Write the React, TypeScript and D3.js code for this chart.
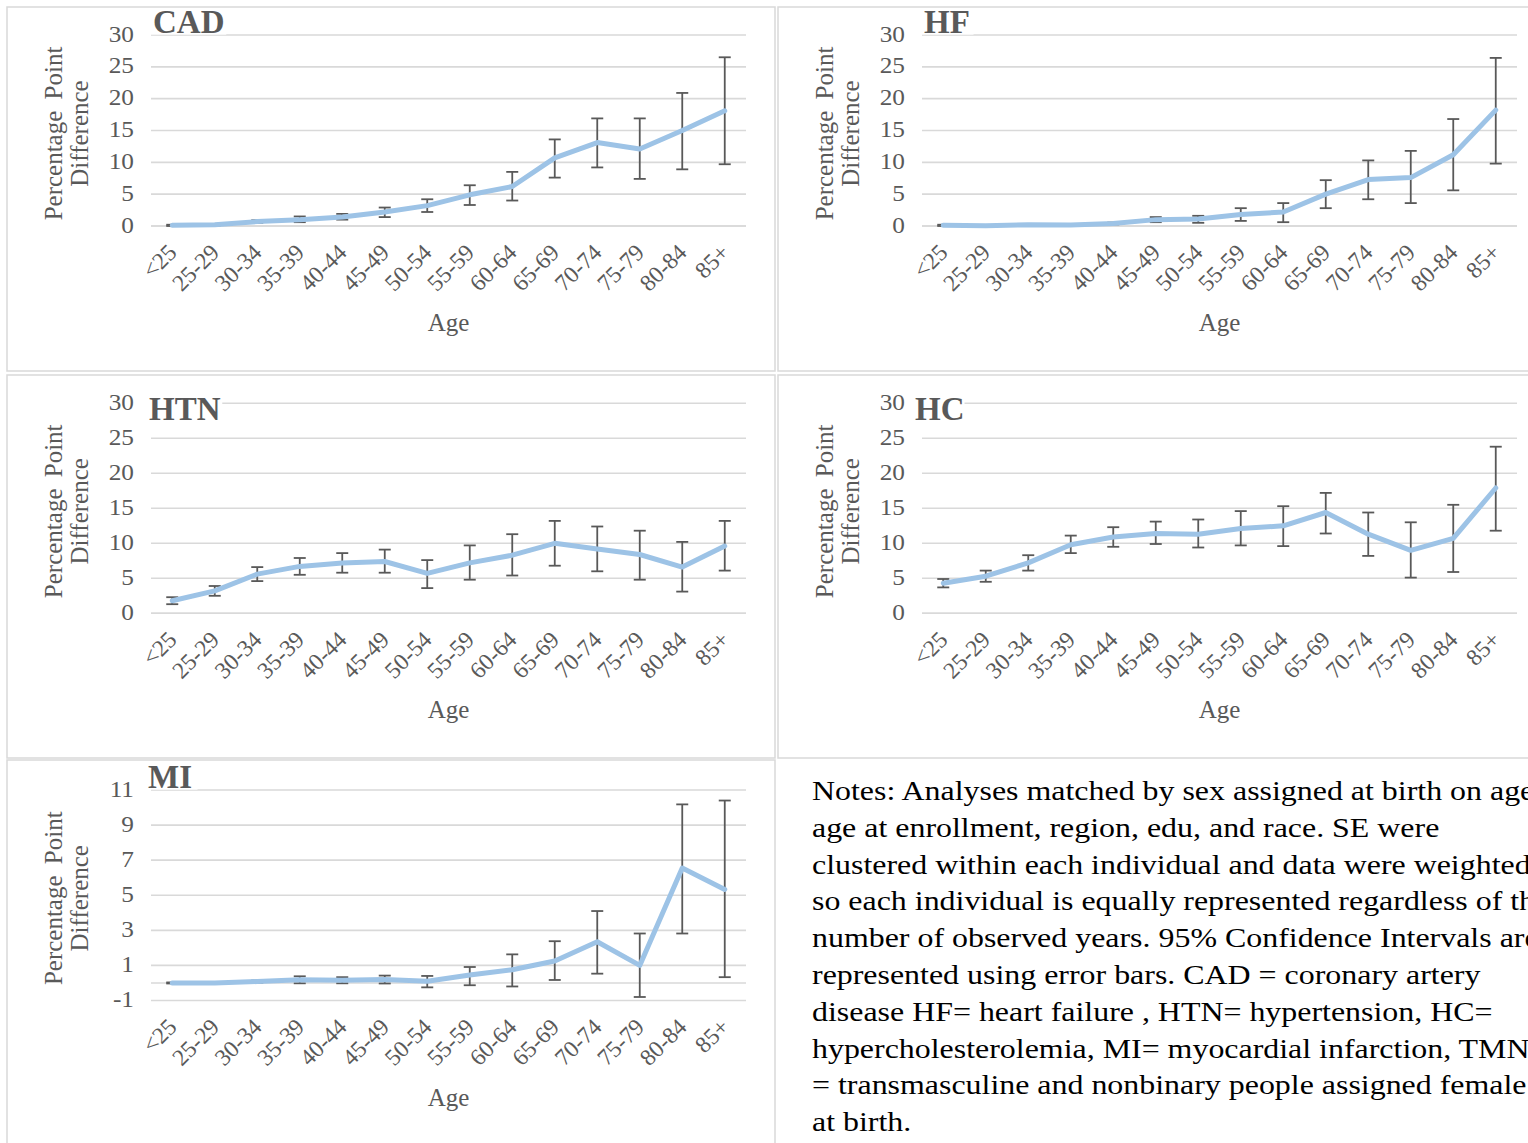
import React from "react";
import * as d3 from "d3";

// Age bands shared by every panel
const ageGroups = [
  "<25", "25-29", "30-34", "35-39", "40-44", "45-49", "50-54",
  "55-59", "60-64", "65-69", "70-74", "75-79", "80-84", "85+",
];

// Coronary artery disease: point estimate and 95% CI bounds
const cadEstimate = [0.1, 0.2, 0.7, 1.0, 1.4, 2.2, 3.2, 4.9, 6.2, 10.7, 13.1, 12.1, 15.0, 18.1];
const cadLow = [0.0, 0.1, 0.5, 0.6, 1.0, 1.4, 2.2, 3.3, 4.0, 7.6, 9.2, 7.4, 8.9, 9.7];
const cadHigh = [0.2, 0.3, 0.9, 1.5, 1.9, 2.9, 4.2, 6.4, 8.5, 13.6, 16.9, 16.9, 20.9, 26.5];

// Heart failure
const hfEstimate = [0.1, 0.05, 0.2, 0.15, 0.4, 1.0, 1.1, 1.8, 2.2, 5.0, 7.3, 7.6, 11.2, 18.2];
const hfLow = [0.0, 0.0, 0.1, 0.05, 0.25, 0.6, 0.5, 0.8, 0.6, 2.8, 4.2, 3.6, 5.6, 9.8];
const hfHigh = [0.2, 0.1, 0.3, 0.25, 0.55, 1.4, 1.6, 2.8, 3.6, 7.2, 10.3, 11.8, 16.8, 26.4];

// Hypertension
const htnEstimate = [1.8, 3.2, 5.6, 6.7, 7.2, 7.4, 5.7, 7.2, 8.3, 10.0, 9.2, 8.4, 6.6, 9.6];
const htnLow = [1.3, 2.5, 4.6, 5.5, 5.8, 5.8, 3.6, 4.8, 5.4, 6.8, 6.0, 4.8, 3.1, 6.1];
const htnHigh = [2.3, 3.9, 6.6, 7.9, 8.6, 9.1, 7.6, 9.7, 11.3, 13.2, 12.4, 11.8, 10.2, 13.2];

// Hypercholesterolemia
const hcEstimate = [4.3, 5.3, 7.2, 9.8, 10.9, 11.4, 11.3, 12.1, 12.5, 14.4, 11.3, 9.0, 10.7, 17.9];
const hcLow = [3.7, 4.5, 6.1, 8.6, 9.5, 9.9, 9.4, 9.7, 9.6, 11.4, 8.2, 5.1, 5.9, 11.8];
const hcHigh = [4.9, 6.1, 8.3, 11.1, 12.3, 13.1, 13.4, 14.6, 15.3, 17.2, 14.4, 13.0, 15.5, 23.8];

// Myocardial infarction
const miEstimate = [0.0, 0.0, 0.08, 0.18, 0.15, 0.2, 0.1, 0.45, 0.75, 1.25, 2.35, 1.0, 6.55, 5.33];
const miLow = [-0.03, -0.03, 0.02, -0.02, -0.02, -0.03, -0.25, -0.13, -0.2, 0.17, 0.53, -0.8, 2.82, 0.33];
const miHigh = [0.03, 0.03, 0.14, 0.38, 0.33, 0.42, 0.4, 0.91, 1.63, 2.38, 4.1, 2.82, 10.18, 10.4];

// Y axis tick values
const standardTicks = [0, 5, 10, 15, 20, 25, 30];
const miTicks = [-1, 1, 3, 5, 7, 9, 11];

const noteLines = [
  "Notes: Analyses matched by sex assigned at birth on age",
  "age at enrollment, region, edu, and race. SE were",
  "clustered within each individual and data were weighted",
  "so each individual is equally represented regardless of the",
  "number of observed years. 95% Confidence Intervals are",
  "represented using error bars. CAD = coronary artery",
  "disease HF= heart failure , HTN= hypertension, HC=",
  "hypercholesterolemia, MI= myocardial infarction, TMN",
  "= transmasculine and nonbinary people assigned female",
  "at birth.",
];

const FONT = "'Liberation Serif', 'Times New Roman', serif";
const TEXT_GRAY = "#595959";
const GRID = "#d9d9d9";
const LINE_BLUE = "#9dc3e6";
const BAR_GRAY = "#595959";

const PANEL_W = 768;
const PLOT_LEFT = 144;
const PLOT_RIGHT = 739;

type PanelSpec = {
  title: string;
  est: number[];
  low: number[];
  high: number[];
  domain: [number, number];
  ticks: number[];
  left: number;
  top: number;
  height: number;
  plotTop: number;
  plotBottom: number;
  titleX: number;
  titleY: number;
};

const panels: PanelSpec[] = [
  { title: "CAD", est: cadEstimate, low: cadLow, high: cadHigh, domain: [0, 30], ticks: standardTicks,
    left: 7, top: 7, height: 364, plotTop: 28, plotBottom: 219, titleX: 146, titleY: 26 },
  { title: "HF", est: hfEstimate, low: hfLow, high: hfHigh, domain: [0, 30], ticks: standardTicks,
    left: 778, top: 7, height: 364, plotTop: 28, plotBottom: 219, titleX: 146, titleY: 26 },
  { title: "HTN", est: htnEstimate, low: htnLow, high: htnHigh, domain: [0, 30], ticks: standardTicks,
    left: 7, top: 375, height: 383, plotTop: 28.3, plotBottom: 238.3, titleX: 142, titleY: 45 },
  { title: "HC", est: hcEstimate, low: hcLow, high: hcHigh, domain: [0, 30], ticks: standardTicks,
    left: 778, top: 375, height: 383, plotTop: 28.3, plotBottom: 238.3, titleX: 137, titleY: 45 },
  { title: "MI", est: miEstimate, low: miLow, high: miHigh, domain: [-1, 11], ticks: miTicks,
    left: 7, top: 760, height: 400, plotTop: 30, plotBottom: 240.5, titleX: 141, titleY: 28 },
];

function ChartPanel({ p }: { p: PanelSpec }) {
  const x = d3.scaleBand<string>().domain(ageGroups).range([PLOT_LEFT, PLOT_RIGHT]);
  const cx = (g: string) => (x(g) as number) + x.bandwidth() / 2;
  const y = d3.scaleLinear().domain(p.domain).range([p.plotBottom, p.plotTop]);
  const path = d3
    .line<number>()
    .x((_, i) => cx(ageGroups[i]))
    .y((v) => y(v))(p.est) as string;
  const midY = (p.plotTop + p.plotBottom) / 2 + 3;
  const capHalf = 6;
  const titleSize = 33;

  return (
    <g transform={`translate(${p.left},${p.top})`}>
      <rect x={0} y={0} width={PANEL_W} height={p.height} fill="#fff" stroke={GRID} strokeWidth={1.5} />
      {/* horizontal gridlines */}
      {p.ticks.map((t) => (
        <line key={`g${t}`} x1={PLOT_LEFT} x2={PLOT_RIGHT} y1={y(t)} y2={y(t)} stroke={GRID} strokeWidth={1.6} />
      ))}
      {/* category axis at zero */}
      <line x1={PLOT_LEFT} x2={PLOT_RIGHT} y1={y(0)} y2={y(0)} stroke={GRID} strokeWidth={1.6} />
      {/* confidence interval bars */}
      {ageGroups.map((g, i) => {
        const xc = cx(g);
        return (
          <g key={`e${g}`} stroke={BAR_GRAY} strokeWidth={1.8}>
            <line x1={xc} x2={xc} y1={y(p.low[i])} y2={y(p.high[i])} />
            <line x1={xc - capHalf} x2={xc + capHalf} y1={y(p.low[i])} y2={y(p.low[i])} />
            <line x1={xc - capHalf} x2={xc + capHalf} y1={y(p.high[i])} y2={y(p.high[i])} />
          </g>
        );
      })}
      <path d={path} fill="none" stroke={LINE_BLUE} strokeWidth={5} strokeLinejoin="round" strokeLinecap="round" />
      {/* y tick labels */}
      {p.ticks.map((t) => (
        <text
          key={`t${t}`}
          transform={`translate(127,${y(t) + 6.5}) scale(1.1,1)`}
          textAnchor="end"
          fontFamily={FONT}
          fontSize={23}
          fill={TEXT_GRAY}
        >
          {t}
        </text>
      ))}
      {/* rotated category labels */}
      {ageGroups.map((g) => (
        <text
          key={`x${g}`}
          transform={`translate(${cx(g)},${p.plotBottom + 22}) rotate(-45)`}
          textAnchor="end"
          dy="0.35em"
          fontFamily={FONT}
          fontSize={23.5}
          fill={TEXT_GRAY}
        >
          {g}
        </text>
      ))}
      {/* panel title */}
      <rect
        x={p.titleX - 2}
        y={p.titleY - titleSize * 0.7}
        width={p.title.length * titleSize * 0.72 + 4}
        height={titleSize * 0.75}
        fill="#fff"
      />
      <text x={p.titleX} y={p.titleY} fontFamily={FONT} fontSize={titleSize} fontWeight="bold" fill={TEXT_GRAY}>
        {p.title}
      </text>
      {/* axis titles */}
      <text
        transform={`translate(${(PLOT_LEFT + PLOT_RIGHT) / 2},${p.plotBottom + 105})`}
        textAnchor="middle"
        fontFamily={FONT}
        fontSize={25}
        fill={TEXT_GRAY}
      >
        Age
      </text>
      <text
        transform={`translate(55,${midY}) rotate(-90)`}
        textAnchor="middle"
        fontFamily={FONT}
        fontSize={25}
        fill={TEXT_GRAY}
        style={{ wordSpacing: "5px" }}
      >
        Percentage Point
      </text>
      <text
        transform={`translate(81,${midY}) rotate(-90)`}
        textAnchor="middle"
        fontFamily={FONT}
        fontSize={25}
        fill={TEXT_GRAY}
      >
        Difference
      </text>
    </g>
  );
}

export default function App() {
  return (
    <div style={{ position: "absolute", left: 0, top: 0 }}>
      <svg width={1528} height={1143} style={{ display: "block", background: "#fff" }}>
        <rect x={0} y={0} width={1528} height={1143} fill="#fff" />
        {panels.map((p) => (
          <ChartPanel key={p.title} p={p} />
        ))}
        {noteLines.map((line, i) => (
          <text
            key={i}
            transform={`translate(812,${800 + i * 36.8}) scale(1.14,1)`}
            fontFamily={FONT}
            fontSize={28}
            fill="#000"
            style={{ whiteSpace: "pre" }}
          >
            {line}
          </text>
        ))}
      </svg>
    </div>
  );
}
